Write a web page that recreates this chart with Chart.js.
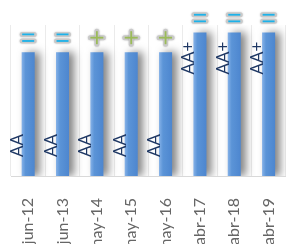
<!DOCTYPE html>
<html>
<head>
<meta charset="utf-8">
<script src="https://cdn.jsdelivr.net/npm/chart.js@4.4.0/dist/chart.umd.min.js"></script>
<style>
  html, body { margin: 0; padding: 0; background: #fff; overflow: hidden; }
  canvas { display: block; }
</style>
</head>
<body>
<canvas id="chart" width="310" height="270"></canvas>
<script>
// rating history
const categories = ['jun-12', 'jun-13', 'may-14', 'may-15', 'may-16', 'abr-17', 'abr-18', 'abr-19'];
const ratings = ['AA', 'AA', 'AA', 'AA', 'AA', 'AA+', 'AA+', 'AA+'];
const barHeights = [82, 82, 82, 82, 82, 95, 95, 95];
const outlook = ['=', '=', '+', '+', '+', '=', '=', '='];

const BAR_PCT = 0.38;

function barFill(c) {
  const xs = c.chart.scales.x;
  if (c.type !== 'data' || !xs) return '#5b94d7';
  const cx = xs.getPixelForValue(c.dataIndex);
  const half = xs.width / categories.length * BAR_PCT / 2;
  if (!isFinite(cx) || !isFinite(half) || half <= 0) return '#5b94d7';
  const g = c.chart.ctx.createLinearGradient(cx - half, 0, cx + half, 0);
  g.addColorStop(0, '#86b2e8');
  g.addColorStop(0.3, '#5b94d7');
  g.addColorStop(1, '#4d86cf');
  return g;
}

// soft shadow right of the bars
const barShadow = {
  id: 'barShadow',
  beforeDatasetDraw(chart) {
    const ctx = chart.ctx;
    ctx.save();
    ctx.shadowColor = 'rgba(0,0,0,0.5)';
    ctx.shadowBlur = 8;
    ctx.shadowOffsetX = 5;
    ctx.shadowOffsetY = 0;
  },
  afterDatasetDraw(chart) {
    chart.ctx.restore();
  }
};

function drawSymbol(ctx, sym, x, y) {
  const w = 6.5;
  const segs = sym === '+'
    ? [[x - w, y, x + w, y], [x, y - w, x, y + w]]
    : [[x - w + 0.5, y - 3.3, x + w - 0.5, y - 3.3], [x - w + 0.5, y + 3.3, x + w - 0.5, y + 3.3]];
  ctx.save();
  ctx.lineCap = 'round';
  ctx.strokeStyle = 'rgba(200,200,200,0.9)';
  ctx.lineWidth = 5;
  ctx.shadowColor = 'rgba(0,0,0,0.25)';
  ctx.shadowBlur = 2;
  segs.forEach(s => { ctx.beginPath(); ctx.moveTo(s[0], s[1]); ctx.lineTo(s[2], s[3]); ctx.stroke(); });
  ctx.shadowBlur = 0;
  ctx.shadowColor = 'transparent';
  ctx.lineCap = 'butt';
  ctx.strokeStyle = sym === '+' ? '#9bbb59' : '#1cb2ea';
  ctx.lineWidth = 1.8;
  segs.forEach(s => { ctx.beginPath(); ctx.moveTo(s[0], s[1]); ctx.lineTo(s[2], s[3]); ctx.stroke(); });
  ctx.restore();
}

// rating text and outlook marks
const ratingLabels = {
  id: 'ratingLabels',
  afterDatasetsDraw(chart) {
    const ctx = chart.ctx;
    const meta = chart.getDatasetMeta(0);
    const top = Math.max(...barHeights);
    const base = chart.scales.y.getPixelForValue(0);
    meta.data.forEach((bar, i) => {
      ctx.save();
      ctx.translate(bar.x - 5.5, 0);
      ctx.rotate(-Math.PI / 2);
      ctx.font = '17px Lato';
      ctx.fillStyle = '#1f3864';
      ctx.textBaseline = 'alphabetic';
      if (barHeights[i] === top) {
        ctx.textAlign = 'right';
        ctx.fillText(ratings[i], -(bar.y + 9), 0);
      } else {
        ctx.textAlign = 'left';
        ctx.fillText(ratings[i], -(base - 19), 0);
      }
      ctx.restore();
      drawSymbol(ctx, outlook[i], bar.x, bar.y - 14.5);
    });
  }
};

new Chart(document.getElementById('chart'), {
  type: 'bar',
  data: {
    labels: categories,
    datasets: [{
      data: barHeights,
      backgroundColor: barFill,
      borderWidth: 0,
      categoryPercentage: 1,
      barPercentage: BAR_PCT
    }]
  },
  options: {
    responsive: false,
    animation: false,
    layout: { padding: { top: 25, left: 11, right: 3, bottom: 0 } },
    plugins: { legend: { display: false }, tooltip: { enabled: false } },
    scales: {
      x: {
        grid: { color: '#ebebeb', drawTicks: false, offset: true },
        border: { color: '#d9d9d9', width: 1 },
        ticks: {
          color: '#666666',
          font: { family: 'Lato', size: 16 },
          minRotation: 90,
          maxRotation: 90,
          autoSkip: false,
          padding: 22
        },
        afterFit(scale) { scale.height = 94; }
      },
      y: { display: false, min: 0, max: 100 }
    }
  },
  plugins: [barShadow, ratingLabels]
});
</script>
</body>
</html>
